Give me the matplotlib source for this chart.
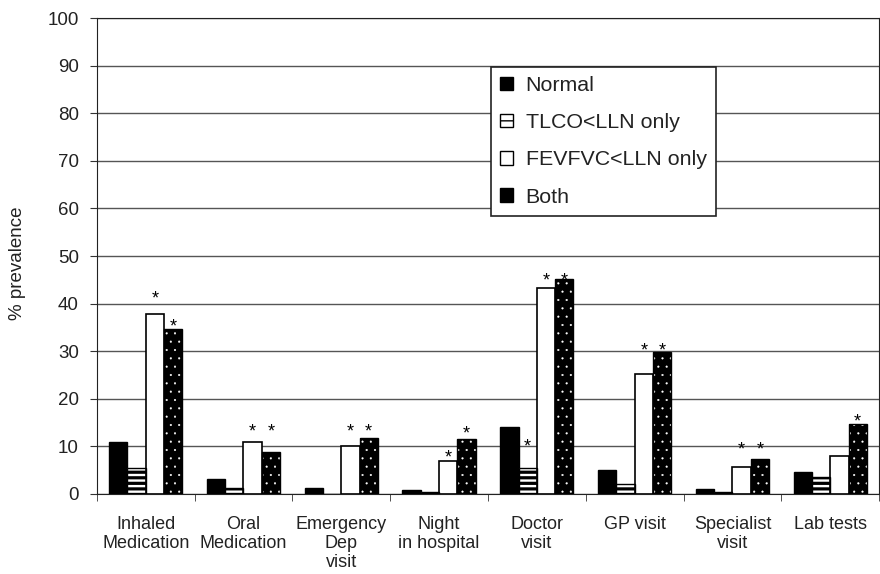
"""
Prevalence of health care use by lung function group, grouped bar chart.
"""

import numpy as np
import matplotlib.pyplot as plt

plt.rcParams['font.family'] = ['Liberation Sans', 'DejaVu Sans']

CATEGORIES = ['Inhaled\nMedication', 'Oral\nMedication', 'Emergency\nDep\nvisit',
              'Night\nin hospital', 'Doctor\nvisit', 'GP visit',
              'Specialist\nvisit', 'Lab tests']
SERIES = ['Normal', 'TLCO<LLN only', 'FEVFVC<LLN only', 'Both']

normal = [11.0, 3.1, 1.2, 0.8, 14.0, 5.1, 1.0, 4.7]
tlco = [5.5, 1.3, 0.0, 0.4, 5.5, 2.2, 0.5, 3.6]
fevfvc = [37.8, 11.0, 10.0, 6.9, 43.2, 25.3, 5.6, 7.9]
both = [34.7, 8.8, 11.7, 11.6, 45.1, 29.8, 7.3, 14.8]

# significance stars: (series index, category index, level of the star)
stars = [(2, 0, 42.2), (3, 0, 36.3), (2, 1, 14.3), (3, 1, 14.3),
         (2, 2, 14.3), (3, 2, 14.3), (2, 3, 8.8), (3, 3, 13.9),
         (1, 4, 11.1), (2, 4, 46.0), (3, 4, 46.0), (2, 5, 31.3),
         (3, 5, 31.3), (2, 6, 10.5), (3, 6, 10.5), (3, 7, 16.4)]


def hatch_width(bars, lw):
    for b in bars:
        if hasattr(b, 'set_hatch_linewidth'):
            b.set_hatch_linewidth(lw)


def draw_bars(ax):
    x = np.arange(len(CATEGORIES))
    w = 0.187
    offsets = [-1.5 * w, -0.5 * w, 0.5 * w, 1.5 * w]

    ax.bar(x + offsets[0], normal, w, color='black', edgecolor='black',
           linewidth=1, zorder=3)

    # black bars with white horizontal stripes
    striped = ax.bar(x + offsets[1], tlco, w, color='black', edgecolor='white',
                     hatch='---', linewidth=0, zorder=3)
    hatch_width(striped, 1.7)
    ax.bar(x + offsets[1], tlco, w, color='none', edgecolor='black',
           linewidth=1, zorder=4)

    ax.bar(x + offsets[2], fevfvc, w, color='white', edgecolor='black',
           linewidth=1.2, zorder=3)

    # black bars with small white dots
    dotted = ax.bar(x + offsets[3], both, w, color='black', edgecolor='white',
                    hatch='..', linewidth=0, zorder=3)
    hatch_width(dotted, 0.3)
    ax.bar(x + offsets[3], both, w, color='none', edgecolor='black',
           linewidth=1, zorder=4)

    for s, c, level in stars:
        ax.annotate('*', (x[c] + offsets[s], level), xytext=(0, -7.5),
                    textcoords='offset points', ha='center', va='baseline',
                    fontsize=13, zorder=5)


def main():
    fig = plt.figure(figsize=(8.8, 5.74), dpi=100)
    ax = fig.add_axes([0.110, 0.1394, 0.889, 0.8292])

    draw_bars(ax)

    ax.set_xlim(-0.5, len(CATEGORIES) - 0.5)
    ax.set_ylim(0, 100)
    ax.set_yticks(range(0, 101, 10))
    ax.yaxis.grid(True, color='#555555', linewidth=1, zorder=1)
    ax.set_axisbelow(True)
    ax.tick_params(axis='y', labelsize=13.5, length=5, pad=8, color='#333333')

    ax.set_xticks(range(len(CATEGORIES)))
    ax.set_xticklabels(CATEGORIES, fontsize=13, linespacing=1.15,
                       color='#222222')
    ax.tick_params(axis='x', which='major', length=0, pad=16)
    ax.set_xticks(np.arange(-0.5, len(CATEGORIES), 1.0), minor=True)
    ax.tick_params(axis='x', which='minor', length=5, color='#333333')
    for lab in ax.get_yticklabels():
        lab.set_color('#222222')

    for side in ['top', 'right', 'bottom', 'left']:
        ax.spines[side].set_color('#222222')
    ax.set_ylabel('% prevalence', fontsize=13.5, color='#222222')
    ax.yaxis.set_label_coords(-0.09, 0.485)

    handles = [
        plt.Rectangle((0, 0), 1, 1, facecolor='black', edgecolor='black'),
        plt.Rectangle((0, 0), 1, 1, facecolor='white', edgecolor='black', hatch='--'),
        plt.Rectangle((0, 0), 1, 1, facecolor='white', edgecolor='black'),
        plt.Rectangle((0, 0), 1, 1, facecolor='black', edgecolor='black'),
    ]
    leg = ax.legend(handles, SERIES, loc='upper left',
                    bbox_to_anchor=(0.504, 0.897), borderaxespad=0,
                    fontsize=15.4, frameon=True, fancybox=False,
                    edgecolor='#222222', framealpha=1, handlelength=0.6,
                    handleheight=0.6, handletextpad=0.6, labelspacing=0.85,
                    borderpad=0.42)
    leg.get_frame().set_linewidth(1.2)
    for t in leg.get_texts():
        t.set_color('#222222')
    leg.set_zorder(6)

    fig.savefig('out.png', dpi=100)


if __name__ == '__main__':
    main()
